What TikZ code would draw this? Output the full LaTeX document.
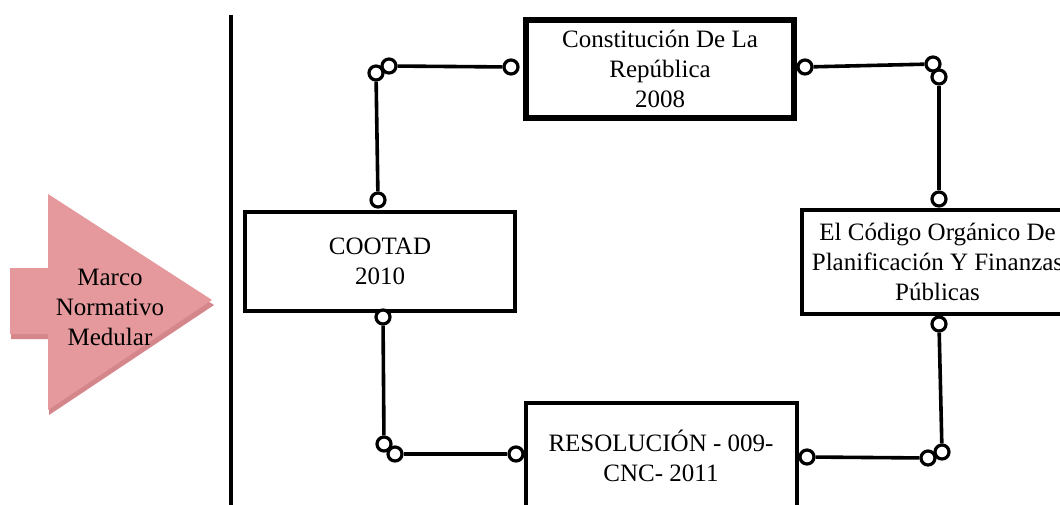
\documentclass[tikz,border=0pt]{standalone}
\usepackage{fontspec}
\setmainfont{Liberation Serif}
\definecolor{arrowface}{RGB}{229,153,156}
\definecolor{arrowedge}{RGB}{212,134,138}
\begin{document}
\begin{tikzpicture}[x=1pt,y=-1pt,
  box/.style={draw, rectangle, inner sep=0pt, align=center, font=\fontsize{25}{30}\selectfont},
  cdot/.style={circle, draw, fill=white, line width=3.2pt, minimum size=14pt, inner sep=0pt},
  link/.style={line width=3.6pt},
  divider/.style={line width=4.5pt}]
\useasboundingbox (0,0) rectangle (1060,505);
\clip (0,0) rectangle (1060,505);
\fill[white] (0,0) rectangle (1060,505);

% pink arrow
\fill[arrowedge] (11,273) -- (49,273) -- (49,199) -- (214,305) -- (49,415) -- (49,339) -- (11,339) -- cycle;
\fill[arrowface] (10,268) -- (48,268) -- (48,194) -- (212,300) -- (48,410) -- (48,334) -- (10,334) -- cycle;
\node[align=center, inner sep=0pt, font=\fontsize{25}{30}\selectfont] (lbl) at (110,307) {Marco\\Normativo\\Medular};

% divider
\coordinate (vtop) at (231,15);
\coordinate (vbot) at (231,507);
\draw[divider] (vtop) -- (vbot);

% boxes
\node[box, line width=6pt, minimum width=268pt, minimum height=98pt] (const) at (660,69) {Constitución De La\\República\\2008};
\node[box, line width=4.5pt, minimum width=270pt, minimum height=99pt] (cootad) at (380,261.5) {COOTAD\\2010};
\node[box, line width=3.8pt, minimum width=271.5pt, minimum height=104.5pt] (codigo) at (937.5,262) {El Código Orgánico De\\Planificación Y Finanzas\\Públicas};
\node[box, line width=4pt, minimum width=271pt, minimum height=107pt] (resol) at (661,456) {RESOLUCIÓN - 009-\\CNC- 2011};

% connector end circles
\node[cdot] (c1) at (511,67) {};
\node[cdot] (c2) at (389,66) {};
\node[cdot] (c3) at (376,73) {};
\node[cdot] (c4) at (378,200) {};
\node[cdot] (c5) at (805,67) {};
\node[cdot] (c6) at (933,64) {};
\node[cdot] (c7) at (939,77) {};
\node[cdot] (c8) at (939,199) {};
\node[cdot] (c9) at (383,317) {};
\node[cdot] (c10) at (384,444) {};
\node[cdot] (c11) at (395,454) {};
\node[cdot] (c12) at (516,454) {};
\node[cdot] (c13) at (939,324) {};
\node[cdot] (c14) at (942,452) {};
\node[cdot] (c15) at (928,458) {};
\node[cdot] (c16) at (807,457) {};

% connectors
\draw[link] (c1) -- (c2);
\draw[link] (c3) -- (c4);
\draw[link] (c5) -- (c6);
\draw[link] (c7) -- (c8);
\draw[link] (c9) -- (c10);
\draw[link] (c11) -- (c12);
\draw[link] (c13) -- (c14);
\draw[link] (c15) -- (c16);
\end{tikzpicture}
\end{document}
